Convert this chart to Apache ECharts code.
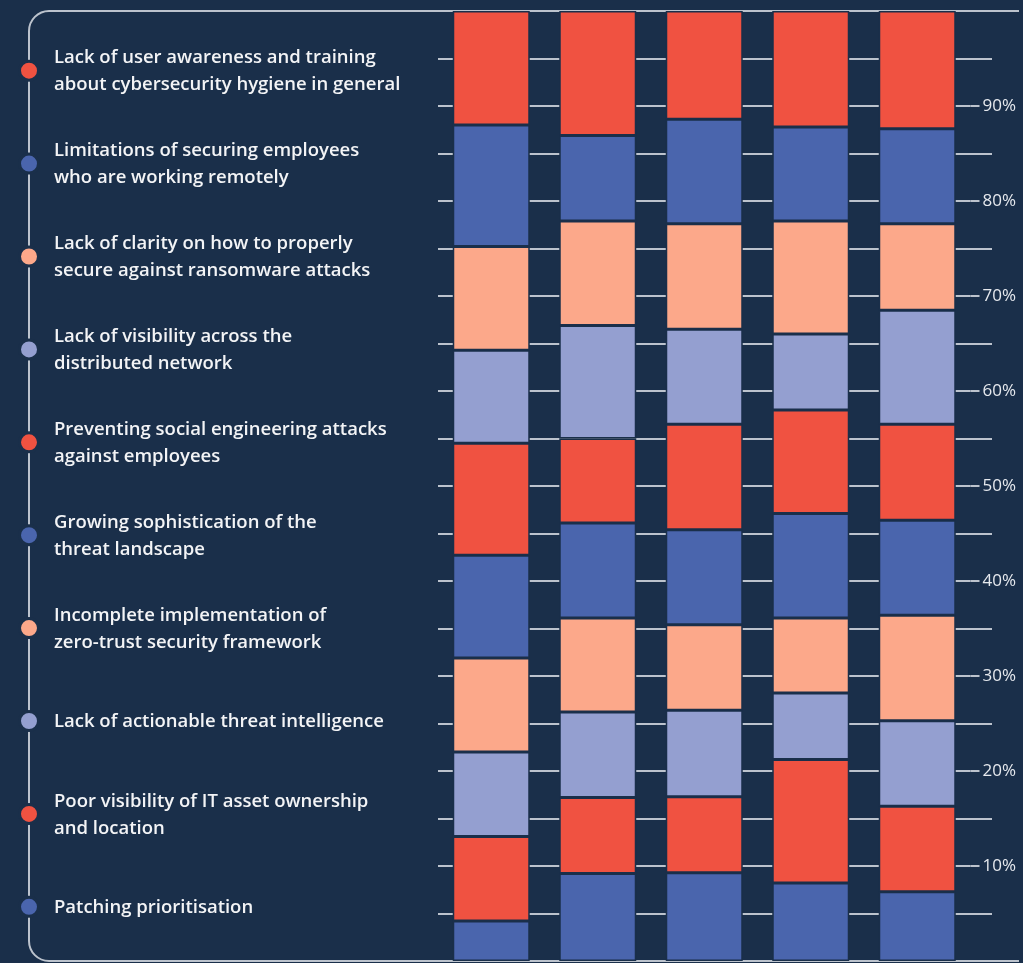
<!DOCTYPE html>
<html>
<head>
<meta charset="utf-8">
<script src="https://cdn.jsdelivr.net/npm/echarts@6/dist/echarts.min.js"></script>
<style>
html,body{margin:0;padding:0;background:#1a2f4a;}
#chart{width:1023px;height:963px;}
</style>
</head>
<body>
<div id="chart"></div>
<script>
// Columns (no visible labels in the reference)
const categories = ['1', '2', '3', '4', '5'];

// Legend / series labels, top to bottom as listed
const labels = [
  'Lack of user awareness and training\nabout cybersecurity hygiene in general',
  'Limitations of securing employees\nwho are working remotely',
  'Lack of clarity on how to properly\nsecure against ransomware attacks',
  'Lack of visibility across the\ndistributed network',
  'Preventing social engineering attacks\nagainst employees',
  'Growing sophistication of the\nthreat landscape',
  'Incomplete implementation of\nzero-trust security framework',
  'Lack of actionable threat intelligence',
  'Poor visibility of IT asset ownership\nand location',
  'Patching prioritisation'
];

// Shares (%) per column, same order as labels
const userAwareness      = [12.0, 13.1, 11.4, 12.2, 12.4];
const remoteEmployees    = [12.8,  9.0, 11.0,  9.9, 10.0];
const ransomwareClarity  = [10.9, 11.0, 11.1, 11.9,  9.1];
const networkVisibility  = [ 9.8, 11.9, 10.0,  8.0, 12.0];
const socialEngineering  = [11.8,  8.9, 11.1, 10.9, 10.1];
const threatLandscape    = [10.8, 10.0, 10.0, 11.0, 10.0];
const zeroTrust          = [ 9.9,  9.9,  9.0,  7.9, 11.1];
const threatIntelligence = [ 8.9,  9.0,  9.1,  7.0,  9.0];
const assetOwnership     = [ 8.9,  8.0,  8.0, 13.0,  9.0];
const patching           = [ 4.2,  9.2,  9.3,  8.2,  7.3];

const values = [userAwareness, remoteEmployees, ransomwareClarity, networkVisibility,
  socialEngineering, threatLandscape, zeroTrust, threatIntelligence, assetOwnership, patching];

// Y axis ticks
const yTicks = [0, 10, 20, 30, 40, 50, 60, 70, 80, 90, 100];

const BG = '#1a2f4a';
const RED = '#f05241', BLUE = '#4a65ad', PEACH = '#fca88a', LAV = '#949fd0';
const colors = [RED, BLUE, PEACH, LAV, RED, BLUE, PEACH, LAV, RED, BLUE];
const LINE = '#bcc3cd';

// stacked from bottom: reverse order
const series = [];
for (let i = labels.length - 1; i >= 0; i--) {
  series.push({
    name: labels[i],
    type: 'bar',
    stack: 'total',
    data: values[i],
    barWidth: 77,
    itemStyle: { color: colors[i], borderColor: BG, borderWidth: 1.5 },
    emphasis: { disabled: true }
  });
}

// left list graphics
const graphics = [];
const frameX = 29, frameTop = 11, frameBottom = 961, rad = 20;
graphics.push({ type: 'line', shape: { x1: frameX + rad, y1: frameTop, x2: 1019, y2: frameTop }, style: { stroke: LINE, lineWidth: 2 }, z: 1 });
graphics.push({ type: 'line', shape: { x1: frameX + rad, y1: frameBottom, x2: 1019, y2: frameBottom }, style: { stroke: LINE, lineWidth: 2 }, z: 1 });
graphics.push({ type: 'line', shape: { x1: frameX, y1: frameTop + rad, x2: frameX, y2: frameBottom - rad }, style: { stroke: LINE, lineWidth: 2 }, z: 1 });
graphics.push({ type: 'arc', shape: { cx: frameX + rad, cy: frameTop + rad, r: rad, startAngle: Math.PI, endAngle: Math.PI * 1.5, clockwise: true }, style: { stroke: LINE, lineWidth: 2, fill: null }, z: 1 });
graphics.push({ type: 'arc', shape: { cx: frameX + rad, cy: frameBottom - rad, r: rad, startAngle: Math.PI * 0.5, endAngle: Math.PI, clockwise: true }, style: { stroke: LINE, lineWidth: 2, fill: null }, z: 1 });

const firstY = 70.7, stepY = 92.9;
labels.forEach((lab, i) => {
  const y = firstY + i * stepY;
  graphics.push({ type: 'circle', shape: { cx: frameX, cy: y, r: 9.5 }, style: { fill: colors[i], stroke: BG, lineWidth: 3 }, z: 5 });
  graphics.push({ type: 'text', x: 54, y: y + 1, style: { text: lab, fill: '#f3f4f6', font: '600 18.5px "Open Sans"', verticalAlign: 'middle', align: 'left', lineHeight: 27 }, z: 5 });
});

const chart = echarts.init(document.getElementById('chart'), null, { renderer: 'canvas' });
chart.setOption({
  backgroundColor: BG,
  animation: false,
  grid: { left: 438, right: 1023 - 970.5, top: 11, bottom: 2 },
  xAxis: {
    type: 'category',
    data: categories,
    axisLine: { show: false },
    axisTick: { show: false },
    axisLabel: { show: false },
    splitLine: { show: false }
  },
  yAxis: {
    type: 'value',
    position: 'right',
    min: yTicks[0],
    max: yTicks[yTicks.length - 1],
    interval: yTicks[1] - yTicks[0],
    axisLine: { show: false },
    axisTick: { show: true, length: 9, lineStyle: { color: LINE, width: 2 } },
    minorTick: { show: true, splitNumber: 2, length: 21.5, lineStyle: { color: LINE, width: 2 } },
    splitLine: { show: true, lineStyle: { color: LINE, width: 2 } },
    minorSplitLine: { show: true, lineStyle: { color: LINE, width: 2 } },
    axisLabel: {
      margin: 12,
      color: '#e6e9ee',
      fontFamily: '"Open Sans"',
      fontSize: 17,
      formatter: v => (v > 0 && v < 100 ? v + '%' : '')
    }
  },
  graphic: graphics,
  series: series
});
</script>
</body>
</html>
